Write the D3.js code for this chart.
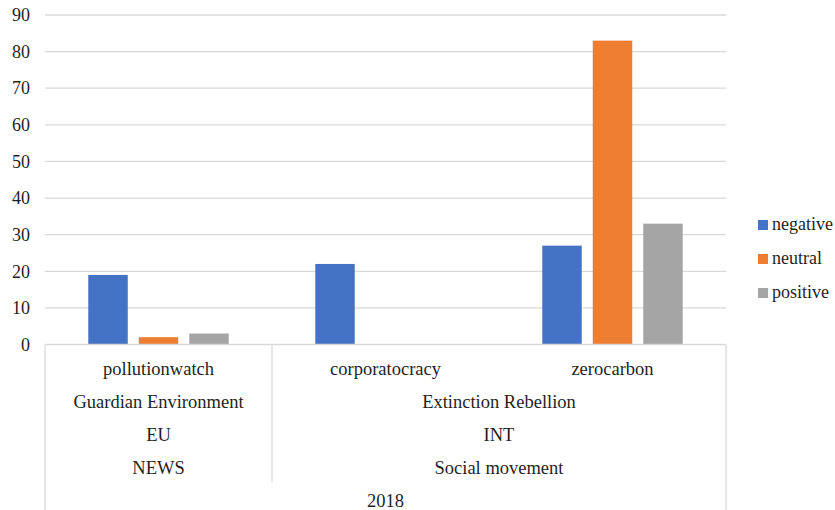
<!DOCTYPE html>
<html>
<head>
<meta charset="utf-8">
<script src="https://cdn.jsdelivr.net/npm/d3@7"></script>
<style>
  html, body { margin: 0; padding: 0; background: #fff; }
</style>
</head>
<body>
<svg id="chart" width="835" height="510" style="font-family:'Liberation Serif'"></svg>
<script>
// Hashtags and their grouping levels
const hashtags = ["pollutionwatch", "corporatocracy", "zerocarbon"];
const sources = [
  { label: "Guardian Environment", span: 1 },
  { label: "Extinction Rebellion", span: 2 }
];
const regions = [
  { label: "EU", span: 1 },
  { label: "INT", span: 2 }
];
const actorTypes = [
  { label: "NEWS", span: 1 },
  { label: "Social movement", span: 2 }
];
const years = [{ label: "2018", span: 3 }];

// Sentiment series
const seriesNames = ["negative", "neutral", "positive"];
const negative = [19, 22, 27];
const neutral = [2, 0, 83];
const positive = [3, 0, 33];
const seriesColors = ["#4472C4", "#ED7D31", "#A5A5A5"];
const yTicks = [0, 10, 20, 30, 40, 50, 60, 70, 80, 90];

(function () {
  const FONT = "'Liberation Serif'";
  const TEXT_COLOR = "#1f1f1f";
  const seriesValues = [negative, neutral, positive];
  const rows = hashtags.map((h, i) => ({
    hashtag: h,
    values: seriesNames.map((s, j) => ({ series: s, value: seriesValues[j][i], color: seriesColors[j] }))
  }));

  const svg = d3.select("#chart");
  const plotLeft = 45, plotRight = 726, plotTop = 15, plotBottom = 344.5;
  const rowH = 33;
  const gridColor = "#d9d9d9";

  const styleText = (sel, size = 18) =>
    sel.style("font-family", FONT).style("font-size", size + "px").attr("fill", TEXT_COLOR);

  const x = d3.scaleBand().domain(hashtags).range([plotLeft, plotRight]).padding(0);
  const xInner = d3.scaleBand().domain(seriesNames).range([0, x.bandwidth()])
    .paddingInner(0.218).paddingOuter(0.857);
  const y = d3.scaleLinear().domain([0, 90]).range([plotBottom, plotTop]);

  // Horizontal gridlines
  svg.append("g").selectAll("line").data(yTicks.filter(t => t > 0)).join("line")
    .attr("x1", plotLeft).attr("x2", plotRight)
    .attr("y1", d => y(d)).attr("y2", d => y(d))
    .attr("stroke", gridColor).attr("stroke-width", 1.3);

  // Y axis labels
  const yAxis = d3.axisLeft(y).tickValues(yTicks).tickSize(0).tickPadding(15);
  const yg = svg.append("g").attr("transform", `translate(${plotLeft},0)`).call(yAxis)
    .attr("font-family", null).attr("font-size", null);
  yg.select(".domain").remove();
  yg.selectAll("text").call(styleText, 18);

  // Bars
  const groups = svg.append("g").selectAll("g").data(rows).join("g")
    .attr("transform", d => `translate(${x(d.hashtag)},0)`);
  groups.selectAll("rect").data(d => d.values.filter(v => v.value > 0)).join("rect")
    .attr("x", d => xInner(d.series))
    .attr("width", xInner.bandwidth())
    .attr("y", d => y(d.value))
    .attr("height", d => y(0) - y(d.value))
    .attr("fill", d => d.color);

  // Multi-level category axis
  const axisG = svg.append("g");
  const step = x.step();
  const bottomEdge = 510;
  axisG.append("line").attr("x1", plotLeft).attr("x2", plotRight).attr("y1", y(0)).attr("y2", y(0))
    .attr("stroke", gridColor).attr("stroke-width", 1.3);
  axisG.append("line").attr("x1", plotLeft).attr("x2", plotLeft).attr("y1", y(0)).attr("y2", bottomEdge)
    .attr("stroke", gridColor).attr("stroke-width", 1.3);
  axisG.append("line").attr("x1", plotRight).attr("x2", plotRight).attr("y1", y(0)).attr("y2", bottomEdge)
    .attr("stroke", gridColor).attr("stroke-width", 1.3);

  // Hashtag row
  axisG.selectAll("text.hashtag").data(hashtags).join("text")
    .attr("class", "hashtag")
    .attr("x", d => x(d) + x.bandwidth() / 2)
    .attr("y", plotBottom + 30)
    .attr("text-anchor", "middle")
    .call(styleText, 18.5)
    .text(d => d);

  // Grouped rows
  function groupRow(items, level) {
    let start = 0;
    const placed = items.map(it => {
      const o = { label: it.label, x0: plotLeft + start * step, x1: plotLeft + (start + it.span) * step };
      start += it.span;
      return o;
    });
    axisG.selectAll(`text.lvl${level}`).data(placed).join("text")
      .attr("class", `lvl${level}`)
      .attr("x", d => (d.x0 + d.x1) / 2)
      .attr("y", plotBottom + 30 + rowH * level)
      .attr("text-anchor", "middle")
      .call(styleText, 18.5)
      .text(d => d.label);
    return placed;
  }
  const srcPlaced = groupRow(sources, 1);
  groupRow(regions, 2);
  groupRow(actorTypes, 3);
  groupRow(years, 4);

  // Divider between top-level groups (spans the hashtag through actor-type rows)
  srcPlaced.slice(0, -1).forEach(d => {
    axisG.append("line").attr("x1", d.x1).attr("x2", d.x1)
      .attr("y1", y(0)).attr("y2", plotBottom + 30 + rowH * 3 + 8)
      .attr("stroke", gridColor).attr("stroke-width", 1.3);
  });

  // Legend
  const legend = svg.append("g").attr("transform", "translate(758,220)");
  const li = legend.selectAll("g").data(seriesNames).join("g")
    .attr("transform", (d, i) => `translate(0,${i * 34})`);
  li.append("rect").attr("width", 10).attr("height", 10).attr("fill", (d, i) => seriesColors[i]);
  li.append("text").attr("x", 14).attr("y", 10).call(styleText, 18).text(d => d);
})();
</script>
</body>
</html>
